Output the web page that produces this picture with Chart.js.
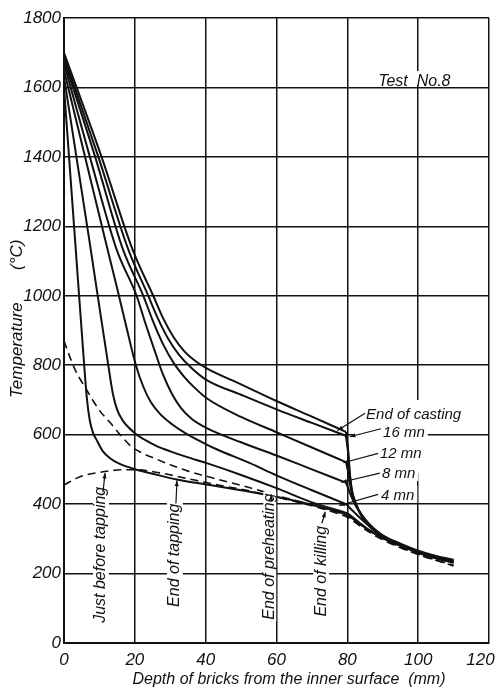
<!DOCTYPE html>
<html><head><meta charset="utf-8">
<script src="https://cdn.jsdelivr.net/npm/chart.js@4.4.1/dist/chart.umd.min.js"></script>
<style>html,body{margin:0;padding:0;background:#fff;}canvas{display:block;}</style>
</head><body>
<canvas id="c" width="496" height="689"></canvas>
<script>
// ---- axis ticks ----
const xTickValues = [0, 20, 40, 60, 80, 100, 120];
const xTickLabels = ['0', '20', '40', '60', '80', '100', '120'];
const yTickValues = [0, 200, 400, 600, 800, 1000, 1200, 1400, 1600, 1800];
const yTickLabels = ['0', '200', '400', '600', '800', '1000', '1200', '1400', '1600', '1800'];

// ---- series names ----
const seriesNames = ['End of casting', '16 mn', '12 mn', '8 mn', '4 mn',
  'End of killing', 'End of tapping', 'End of preheating', 'Just before tapping'];

// depth (mm) of the brick-layer interface where the casting curves break
const brickInterface = 79.6;

// ---- series values: [depth mm, temperature °C] ----
const endOfCasting = [[0,1700],[10.6,1400],[19.4,1132],[25.2,1000],[28,935],[31,880],[34,840],[37,813],[40.3,791],[50,745],[60,697],[70,652],[79.6,608],[80.2,560],[80.7,490],[81.3,440],[82.3,405],[84,368],[86.5,336],[90,310],[95,286],[100,266],[105,251],[110,240]];
const sixteenMn = [[0,1690],[9.7,1400],[18.2,1132],[23.8,1000],[26.5,935],[29.5,875],[32.5,830],[36,792],[40.3,757],[50,715],[60,673],[70,634],[79.6,597],[80.2,550],[80.7,485],[81.3,437],[82.3,402],[84,365],[86.5,333],[90,307],[95,283],[100,264],[105,249],[110,238]];
const twelveMn = [[0,1680],[8.8,1400],[16.7,1132],[22.4,1000],[25,930],[28,860],[31,806],[34,766],[37,734],[40.3,705],[50,651],[60,607],[70,563],[79.6,521],[80.2,495],[80.8,455],[81.5,425],[82.5,398],[84,368],[86.5,334],[90,306],[95,281],[100,262],[105,247],[110,236]];
const eightMn = [[0,1670],[7.3,1400],[14.9,1132],[20.5,1000],[23,920],[25.5,845],[28,772],[30.5,717],[33,677],[36,646],[40.3,619],[50,578],[60,540],[70,500],[79.6,462],[80.3,445],[81,425],[82,402],[83.5,378],[86,345],[89.5,313],[95,282],[100,261],[105,246],[110,234]];
const fourMn = [[0,1650],[5,1440],[12.1,1142],[14.9,1026],[17.5,915],[20.3,800],[22.4,738],[24.5,694],[27.1,660],[30.5,630],[34.6,602],[40,573],[43.1,558],[52.5,518],[60,483],[70,440],[79.6,400],[81,386],[83,366],[85.5,343],[89,315],[94,286],[100,260],[105,245],[110,232]];
const endOfKilling = [[0,1630],[7.3,1150],[12.5,800],[13.8,718],[15,672],[16.5,642],[19.6,608],[23,584],[26.2,567],[30,552],[34.6,536],[40.3,518],[50,484],[60,446],[70,405],[76,386],[80,373],[83,350],[86,327],[90,303],[95,281],[100,262],[105,245],[110,233]];
const endOfTapping = [[0,1600],[3.2,1150],[5.7,800],[6.5,700],[7.3,640],[8.2,605],[9.2,585],[11,552],[13,532],[15.3,518],[20.5,499],[26,485],[31.8,471],[41.2,455],[50,440],[60,421],[70,398],[76,382],[80,368],[83,347],[86,325],[90,302],[95,280],[100,261],[105,244],[110,231]];
const endOfPreheating = [[0,870],[3,790],[6.4,729],[10,670],[13,635],[16,598],[19.1,565],[21.5,550],[26,530],[30.9,510],[35,495],[40.3,480],[46.9,462],[52.5,447],[60,425],[70,398],[76,380],[80,366],[84,338],[88,312],[93,285],[100,256],[105,239],[110,224]];
const justBeforeTapping = [[0,455],[4.5,479],[11,493],[17,499],[20.5,499],[27,490],[36.5,470],[45,452],[50,443],[60,420],[70,395],[76,377],[80,362],[84,334],[88,308],[93,283],[100,255],[105,238],[110,222]];

const castingSeries = [endOfCasting, sixteenMn, twelveMn, eightMn, fourMn];
const otherSolidSeries = [endOfKilling, endOfTapping];
const dashedSeries = [endOfPreheating, justBeforeTapping];

const INK = '#111';
const FONT_FAMILY = '"Liberation Sans", Arial, sans-serif';
const TICK_FAMILY = '"Liberation Sans", Arial, sans-serif';

const toXY = arr => arr.map(p => ({x: p[0], y: p[1]}));
const solidStyle = { borderColor: INK, borderWidth: 2, pointRadius: 0, fill: false, cubicInterpolationMode: 'monotone' };
const dashStyle = { borderColor: INK, borderWidth: 1.6, borderDash: [8, 5], pointRadius: 0, fill: false, cubicInterpolationMode: 'monotone' };

const datasets = [];
castingSeries.forEach((s, i) => {
  // the curve has a sharp corner at the brick interface: draw both sides of it
  datasets.push(Object.assign({ label: seriesNames[i], data: toXY(s.filter(p => p[0] <= brickInterface)) }, solidStyle));
  datasets.push(Object.assign({ label: seriesNames[i], data: toXY(s.filter(p => p[0] >= brickInterface)) }, solidStyle));
});
otherSolidSeries.forEach((s, i) => datasets.push(Object.assign({ label: seriesNames[5 + i], data: toXY(s) }, solidStyle)));
dashedSeries.forEach((s, i) => datasets.push(Object.assign({ label: seriesNames[7 + i], data: toXY(s) }, dashStyle)));

function arrowLine(ctx, x1, y1, x2, y2) {
  ctx.beginPath(); ctx.moveTo(x1, y1); ctx.lineTo(x2, y2); ctx.stroke();
  const a = Math.atan2(y2 - y1, x2 - x1), L = 6;
  ctx.beginPath();
  ctx.moveTo(x2, y2);
  ctx.lineTo(x2 - L * Math.cos(a - 0.35), y2 - L * Math.sin(a - 0.35));
  ctx.lineTo(x2 - L * Math.cos(a + 0.35), y2 - L * Math.sin(a + 0.35));
  ctx.closePath(); ctx.fill();
}

function zeroPad(s) { s.paddingLeft = 0; s.paddingRight = 0; s.paddingTop = 0; s.paddingBottom = 0; }

const annotate = {
  id: 'annotate',
  afterDatasetsDraw(chart) {
    const ctx = chart.ctx, xs = chart.scales.x, ys = chart.scales.y;
    const P = (x, y) => [xs.getPixelForValue(x), ys.getPixelForValue(y)];
    const font = 'italic 16px ' + FONT_FAMILY;
    const fontS = 'italic 15px ' + FONT_FAMILY;
    ctx.save();
    ctx.strokeStyle = INK; ctx.fillStyle = INK; ctx.lineWidth = 1.2;

    function htext(str, x, y, f, padL, top, h) {
      const [px, py] = P(x, y);
      ctx.font = f; ctx.textAlign = 'left'; ctx.textBaseline = 'alphabetic';
      const w = ctx.measureText(str).width;
      ctx.fillStyle = '#fff';
      ctx.fillRect(px - (padL || 2), py - (top || 14), w + (padL || 2) + 3, h || 17);
      ctx.fillStyle = INK;
      ctx.fillText(str, px, py);
    }
    function vtext(str, x, y, f, half) {
      const [px, py] = P(x, y);
      ctx.save(); ctx.translate(px, py); ctx.rotate(-Math.PI / 2);
      ctx.font = f; ctx.textAlign = 'left'; ctx.textBaseline = 'middle';
      const w = ctx.measureText(str).width;
      ctx.fillStyle = '#fff'; ctx.fillRect(-2, -half, w + 4, 2 * half);
      ctx.fillStyle = INK; ctx.fillText(str, 0, 0);
      ctx.restore();
    }
    function arrow(x1, y1, x2, y2) {
      const a = P(x1, y1), b = P(x2, y2);
      arrowLine(ctx, a[0], a[1], b[0], b[1]);
    }

    // test number, sitting on the 1600 grid line
    htext('Test  No.8', 88.7, 1604, font, 3, 15, 14);

    // blank the 100 mm grid line behind the label column
    const [gx] = P(100, 0);
    const [, gTop] = P(0, 700), [, gBot] = P(0, 490);
    ctx.fillStyle = '#fff'; ctx.fillRect(gx - 2, gTop, 4, gBot - gTop);

    htext(seriesNames[0], 85.3, 645, fontS);
    arrow(85.0, 662, 77.2, 612);
    htext(seriesNames[1], 90.1, 593, fontS, 30);
    arrow(89.5, 617, 80.7, 594);
    htext(seriesNames[2], 89.2, 533, fontS);
    arrow(88.7, 546, 78.9, 519);
    htext(seriesNames[3], 89.8, 475, fontS);
    arrow(89.2, 489, 78.3, 463);
    htext(seriesNames[4], 89.5, 412, fontS);
    arrow(88.7, 428, 77.7, 396);

    vtext(seriesNames[8], 10.45, 58, font, 8);
    arrow(11.0, 434, 11.6, 490);
    vtext(seriesNames[6], 31.3, 104, font, 8);
    arrow(31.6, 402, 31.9, 468);
    vtext(seriesNames[7], 58.1, 67, font, 6.5);
    arrow(58.4, 411, 58.6, 428);
    vtext(seriesNames[5], 72.6, 76, font, 8);
    arrow(72.8, 345, 73.8, 378);

    ctx.font = 'italic 17px ' + FONT_FAMILY; ctx.fillStyle = INK;
    ctx.save(); ctx.translate(17, 398); ctx.rotate(-Math.PI / 2);
    ctx.textAlign = 'left'; ctx.textBaseline = 'middle';
    ctx.fillText('Temperature', 0, 0);
    ctx.fillText('(°C)', 128, 0);
    ctx.restore();
    ctx.font = 'italic 16px ' + FONT_FAMILY;
    ctx.textAlign = 'center'; ctx.textBaseline = 'alphabetic';
    ctx.fillText('Depth of bricks from the inner surface  (mm)', 289, 684);
    ctx.restore();
  }
};

new Chart(document.getElementById('c'), {
  type: 'line',
  data: { datasets },
  options: {
    responsive: false, animation: false, devicePixelRatio: 1,
    layout: { padding: { left: 0, right: 7, top: 18, bottom: 0 }, autoPadding: false },
    plugins: { legend: { display: false }, tooltip: { enabled: false } },
    scales: {
      x: {
        type: 'linear', min: 0, max: 120,
        afterBuildTicks: s => { s.ticks = xTickValues.map(v => ({value: v})); },
        afterFit: s => { s.height = 46; zeroPad(s); },
        grid: { color: INK, lineWidth: 1.5, drawTicks: false },
        border: { display: true, color: INK, width: 2 },
        ticks: {
          padding: 7, color: INK, maxRotation: 0, autoSkip: false,
          font: { family: TICK_FAMILY, size: 17, style: 'italic' },
          // last label is nudged inside the canvas, as in the original
          callback: v => xTickLabels[xTickValues.indexOf(v)] + (v === 120 ? '\u2002\u2002' : '')
        }
      },
      y: {
        type: 'linear', min: 0, max: 1800,
        afterBuildTicks: s => { s.ticks = yTickValues.map(v => ({value: v})); },
        afterFit: s => { s.width = 64; zeroPad(s); },
        grid: { color: INK, lineWidth: 1.5, drawTicks: false },
        border: { display: true, color: INK, width: 2 },
        ticks: {
          padding: 3, color: INK, autoSkip: false,
          font: { family: TICK_FAMILY, size: 17, style: 'italic' },
          callback: v => yTickLabels[yTickValues.indexOf(v)]
        }
      }
    }
  },
  plugins: [annotate]
});
</script>
</body></html>
